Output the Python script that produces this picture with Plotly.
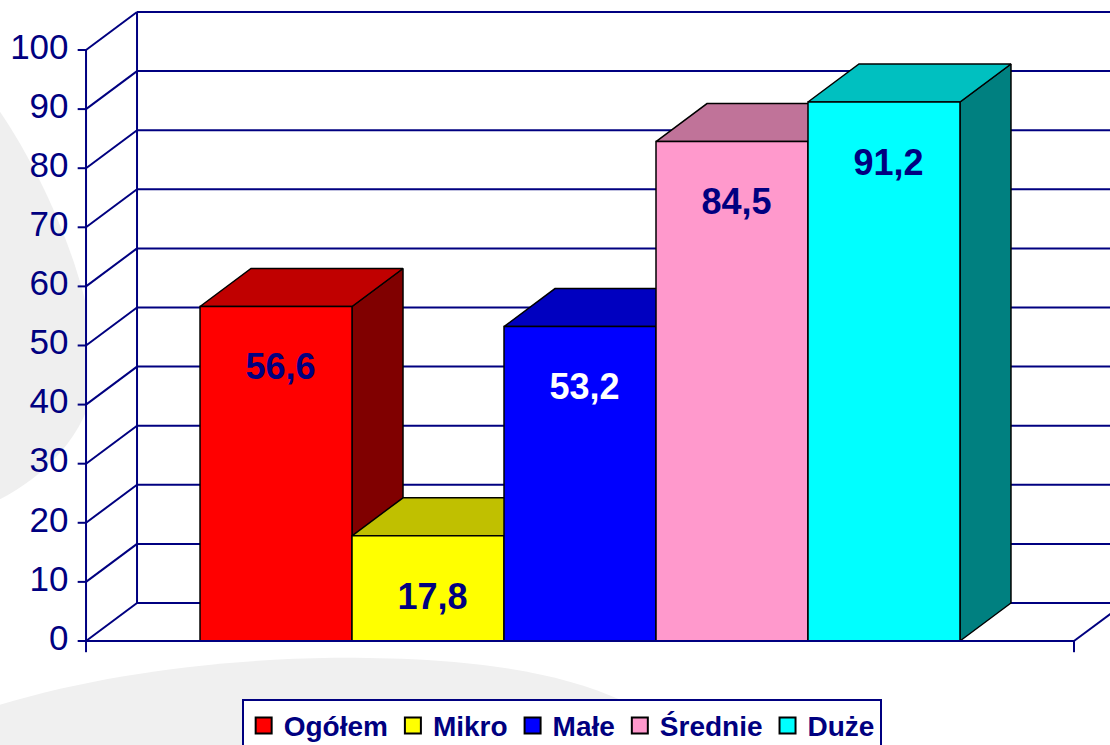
import plotly.graph_objects as go

categories = ["Ogółem", "Mikro", "Małe", "Średnie", "Duże"]
values = [56.6, 17.8, 53.2, 84.5, 91.2]
value_labels = ["56,6", "17,8", "53,2", "84,5", "91,2"]
tick_values = [0, 10, 20, 30, 40, 50, 60, 70, 80, 90, 100]
tick_labels = [str(v) for v in tick_values]

front_colors = ["#FF0000", "#FFFF00", "#0000FF", "#FF99CC", "#00FFFF"]
top_colors = ["#C00000", "#C0C000", "#0000C0", "#C07399", "#00C0C0"]
side_colors = ["#800000", "#808000", "#000080", "#804C66", "#008080"]
label_colors = ["#000080", "#000080", "#FFFFFF", "#000080", "#000080"]

NAVY = "#000080"
FONT = "Liberation Sans, Arial, sans-serif"
DX, DY = 0.3355, 6.43          # 3d depth offset (x in bar widths, y in value units)
X_LEFT, X_RIGHT = -0.75, 5.75  # floor extent
Y_TOP = tick_values[-1]


def poly(points):
    xs = [p[0] for p in points] + [points[0][0]]
    ys = [p[1] for p in points] + [points[0][1]]
    return xs, ys


def segs(pairs):
    xs, ys = [], []
    for (a, b) in pairs:
        xs += [a[0], b[0], None]
        ys += [a[1], b[1], None]
    return xs, ys


fig = go.Figure()

# white walls
for pts in [
    [(X_LEFT, 0), (X_LEFT + DX, DY), (X_LEFT + DX, Y_TOP + DY), (X_LEFT, Y_TOP)],
    [(X_LEFT + DX, DY), (X_RIGHT + DX, DY), (X_RIGHT + DX, Y_TOP + DY), (X_LEFT + DX, Y_TOP + DY)],
    [(X_LEFT, 0), (X_RIGHT, 0), (X_RIGHT + DX, DY), (X_LEFT + DX, DY)],
]:
    px, py = poly(pts)
    fig.add_trace(go.Scatter(x=px, y=py, mode="lines", fill="toself", fillcolor="white",
                             line=dict(width=0), hoverinfo="skip", showlegend=False))

# walls and gridlines
grid = []
for v in tick_values:
    grid.append(((X_LEFT + DX, v + DY), (X_RIGHT + DX, v + DY)))
    grid.append(((X_LEFT, v), (X_LEFT + DX, v + DY)))
    grid.append(((X_LEFT - 0.055, v), (X_LEFT, v)))
grid.append(((X_LEFT, 0), (X_LEFT, Y_TOP)))
grid.append(((X_LEFT + DX, DY), (X_LEFT + DX, Y_TOP + DY)))
grid.append(((X_RIGHT, 0), (X_RIGHT + DX, DY)))
gx, gy = segs(grid)
fig.add_trace(go.Scatter(x=gx, y=gy, mode="lines", line=dict(color=NAVY, width=2),
                         hoverinfo="skip", showlegend=False))

# bars
for i, v in enumerate(values):
    x0, x1 = i, i + 1
    faces = [
        ([(x1, 0), (x1 + DX, DY), (x1 + DX, v + DY), (x1, v)], side_colors[i]),
        ([(x0, v), (x1, v), (x1 + DX, v + DY), (x0 + DX, v + DY)], top_colors[i]),
        ([(x0, 0), (x1, 0), (x1, v), (x0, v)], front_colors[i]),
    ]
    for pts, col in faces:
        px, py = poly(pts)
        fig.add_trace(go.Scatter(x=px, y=py, mode="lines", fill="toself", fillcolor=col,
                                 line=dict(color="black", width=1.5),
                                 hoverinfo="skip", showlegend=False))

# floor front line and end ticks
fx, fy = segs([((X_LEFT, 0), (X_RIGHT, 0)),
               ((X_LEFT, 0), (X_LEFT, -1.9)),
               ((X_RIGHT, 0), (X_RIGHT, -1.9))])
fig.add_trace(go.Scatter(x=fx, y=fy, mode="lines", line=dict(color=NAVY, width=2),
                         hoverinfo="skip", showlegend=False))

# data labels
fig.add_trace(go.Scatter(
    x=[i + 0.53 for i in range(len(values))],
    y=[v - 10.8 for v in values],
    mode="text", text=value_labels, textposition="middle center",
    textfont=dict(family=FONT, size=36, color=label_colors, weight="bold"),
    hoverinfo="skip", showlegend=False))

# y tick labels
fig.add_trace(go.Scatter(
    x=[X_LEFT - 0.115] * len(tick_values), y=tick_values,
    mode="text", text=tick_labels, textposition="middle left",
    textfont=dict(family=FONT, size=35, color=NAVY),
    hoverinfo="skip", showlegend=False))

# legend entries
for name, col in zip(categories, front_colors):
    fig.add_trace(go.Scatter(x=[None], y=[None], mode="markers", name=name,
                             marker=dict(symbol="square", size=16, color=col,
                                         line=dict(color="black", width=2))))

fig.update_layout(
    width=1110, height=745,
    margin=dict(l=0, r=0, t=0, b=0, autoexpand=False),
    paper_bgcolor="white", plot_bgcolor="rgba(0,0,0,0)",
    xaxis=dict(visible=False, range=[-1.316, 5.987], fixedrange=True),
    yaxis=dict(visible=False, range=[-17.6, 108.46], fixedrange=True),
    showlegend=True,
    legend=dict(orientation="h", x=0.506, xanchor="center", y=0.062, yanchor="top",
                bgcolor="white", bordercolor=NAVY, borderwidth=2,
                font=dict(family=FONT, size=28, color=NAVY, weight="bold"),
                itemwidth=30, tracegroupgap=0),
    shapes=[
        dict(type="path", xref="paper", yref="paper", layer="below", line_width=0,
             fillcolor="#efefef",
             path="M 0,0.85 C 0.05,0.74 0.09,0.58 0.085,0.49 C 0.08,0.42 0.04,0.36 0,0.33 Z"),
        dict(type="path", xref="paper", yref="paper", layer="below", line_width=0,
             fillcolor="#f0f0f0",
             path="M 0,0 L 0,0.054 C 0.09,0.095 0.2,0.115 0.3,0.117 C 0.42,0.118 0.5,0.1 0.56,0.06 L 0.6,0 Z"),
    ],
)

fig.write_html("out.html", config={"displayModeBar": False},
               post_script="document.body.style.margin='0px';")
